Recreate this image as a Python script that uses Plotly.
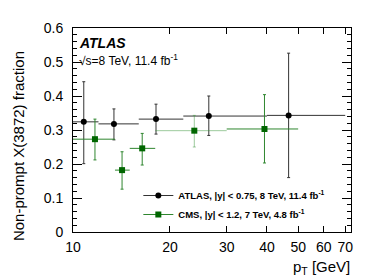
import plotly.graph_objects as go

# ATLAS data
atlas_x = [10.8, 13.4, 18.1, 26.4, 46.7]
atlas_xlo = [10, 12, 16, 22, 40]
atlas_xhi = [12, 16, 22, 40, 70]
atlas_y = [0.324, 0.318, 0.332, 0.341, 0.343]
atlas_yhi = [0.447, 0.365, 0.376, 0.398, 0.526]
atlas_ylo = [0.206, 0.274, 0.288, 0.282, 0.160]

# CMS data
cms_x = [11.7, 14.2, 16.4, 23.8, 39.3]
cms_xlo = [10, 13.5, 15, 18, 30]
cms_xhi = [13.5, 15, 18, 30, 50]
cms_y = [0.273, 0.182, 0.246, 0.298, 0.303]
cms_yhi = [0.334, 0.238, 0.295, 0.346, 0.403]
cms_ylo = [0.214, 0.128, 0.202, 0.253, 0.202]

x_ticks = [10, 20, 30, 40, 50, 60, 70]
y_ticks = [0, 0.1, 0.2, 0.3, 0.4, 0.5, 0.6]

FONT = "Liberation Sans, Arial, sans-serif"
GREEN_M = "#006600"
GREEN_L = "#2f862f"
GREEN_LIGHT = "rgba(60,150,60,0.5)"


def errs(x, lo, hi):
    return [h - v for v, h in zip(x, hi)], [v - l for v, l in zip(x, lo)]


fig = go.Figure()

# ATLAS
ep, em = errs(atlas_x, atlas_xlo, atlas_xhi)
yp, ym = errs(atlas_y, atlas_ylo, atlas_yhi)
fig.add_trace(go.Scatter(
    x=atlas_x, y=atlas_y, mode="markers", showlegend=False,
    marker=dict(color="black", size=6, symbol="circle"),
    error_x=dict(type="data", symmetric=False, array=ep, arrayminus=em,
                 color="#333333", thickness=1, width=0),
    error_y=dict(type="data", symmetric=False, array=ym, arrayminus=yp,
                 color="#333333", thickness=1, width=1.5),
))

# CMS
cp, cm = errs(cms_x, cms_xlo, cms_xhi)
cyp, cym = errs(cms_y, cms_ylo, cms_yhi)
main_idx = [0, 1, 2, 4]
light_idx = [3]
for idx, col in ((main_idx, GREEN_L), (light_idx, GREEN_LIGHT)):
    fig.add_trace(go.Scatter(
        x=[cms_x[i] for i in idx], y=[cms_y[i] for i in idx],
        mode="markers", showlegend=False,
        marker=dict(color=GREEN_M, size=6, symbol="square"),
        error_x=dict(type="data", symmetric=False,
                     array=[cp[i] for i in idx], arrayminus=[cm[i] for i in idx],
                     color=col, thickness=1, width=0),
        error_y=dict(type="data", symmetric=False,
                     array=[cym[i] for i in idx], arrayminus=[cyp[i] for i in idx],
                     color=col, thickness=1, width=1.5),
    ))

# legend entries
fig.add_trace(go.Scatter(
    x=[None], y=[None], mode="lines+markers",
    name="<b>ATLAS, |y| < 0.75, 8 TeV, 11.4 fb<sup>-1</sup></b>",
    line=dict(color="#333333", width=1),
    marker=dict(color="black", size=6, symbol="circle"),
))
fig.add_trace(go.Scatter(
    x=[None], y=[None], mode="lines+markers",
    name="<b>CMS, |y| < 1.2, 7 TeV, 4.8 fb<sup>-1</sup></b>",
    line=dict(color=GREEN_L, width=1),
    marker=dict(color=GREEN_M, size=6, symbol="square"),
))

axis_common = dict(
    showline=True, linecolor="black", linewidth=1, mirror="allticks",
    ticks="inside", tickcolor="black", showgrid=False, zeroline=False,
    tickfont=dict(family=FONT, size=14, color="black"),
)

fig.update_xaxes(
    type="log", range=[1, 1.863], tickvals=x_ticks,
    ticktext=[str(v) for v in x_ticks], ticklen=6, ticklabelstandoff=2,
    **axis_common,
)
fig.update_yaxes(
    range=[0, 0.6], tickvals=y_ticks,
    ticktext=["0", "0.1", "0.2", "0.3", "0.4", "0.5", "0.6"],
    ticklen=9, ticklabelstandoff=6,
    minor=dict(dtick=0.02, ticklen=4, ticks="inside", tickcolor="black"),
    **axis_common,
)

fig.add_annotation(
    text="Non-prompt X(3872) fraction", textangle=-90,
    xref="paper", yref="paper", x=-0.195, y=0.42, xanchor="center", yanchor="middle",
    showarrow=False, font=dict(family=FONT, size=15, color="black"),
)
fig.add_annotation(
    text="p<sub>T</sub> [GeV]",
    xref="paper", yref="paper", x=1.0, y=-0.122, xanchor="right", yanchor="top",
    showarrow=False, borderpad=0, font=dict(family=FONT, size=15, color="black"),
)
fig.add_annotation(
    text="<b><i>ATLAS</i></b>",
    xref="paper", yref="paper", x=0.015, y=0.975, xanchor="left", yanchor="top",
    showarrow=False, font=dict(family=FONT, size=14, color="black"),
)
fig.add_annotation(
    text="√s=8 TeV, 11.4 fb<sup>-1</sup>",
    xref="paper", yref="paper", x=0.015, y=0.89, xanchor="left", yanchor="top",
    showarrow=False, font=dict(family=FONT, size=12, color="black"),
)

fig.update_layout(
    width=390, height=280,
    margin=dict(l=73, r=39, t=28, b=48),
    paper_bgcolor="white", plot_bgcolor="white",
    font=dict(family=FONT, color="black"),
    legend=dict(
        x=0.235, y=0.25, xanchor="left", yanchor="top",
        bgcolor="rgba(0,0,0,0)", font=dict(family=FONT, size=9.5, color="black"),
        tracegroupgap=0, itemwidth=30,
    ),
)

fig.write_html(
    "out.html",
    config={"displayModeBar": False},
    post_script="document.body.style.margin='0';document.body.style.overflow='hidden';",
)
